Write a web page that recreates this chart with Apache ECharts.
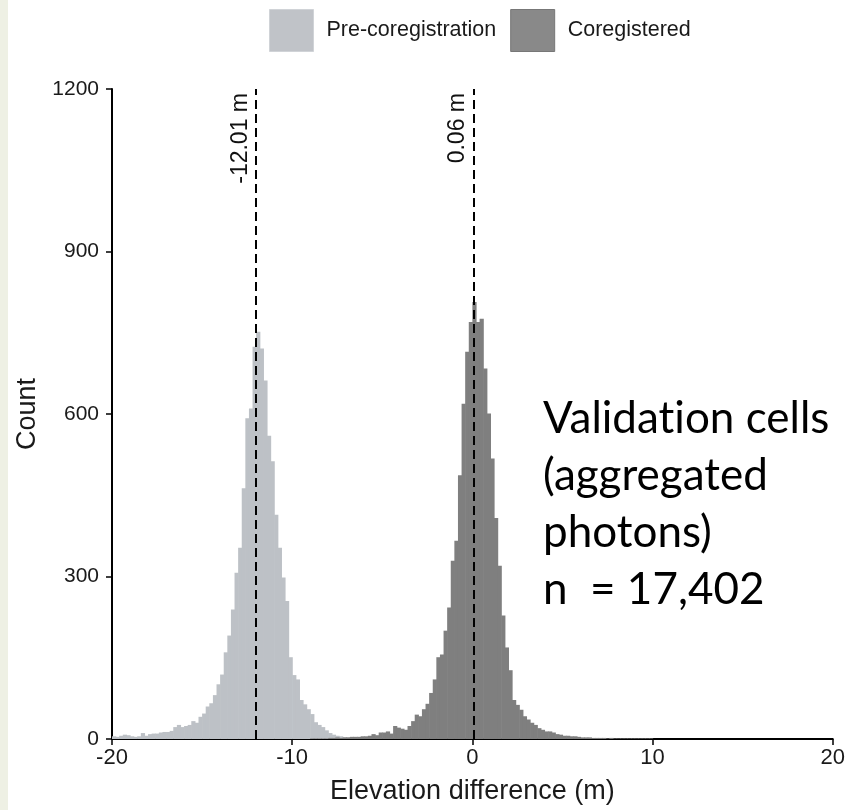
<!DOCTYPE html>
<html>
<head>
<meta charset="utf-8">
<script src="https://cdn.jsdelivr.net/npm/echarts/dist/echarts.min.js"></script>
<style>
  html, body { margin: 0; padding: 0; background: #fff; }
  #histChart { width: 848px; height: 810px; }
</style>
</head>
<body>
<div id="histChart"></div>
<script>
// histogram bins: 0.2 m wide, counts
var binWidth = 0.2;

// Pre-coregistration, first bin starts at -20.0 m
var preStart = -20.0;
var preCounts = [
  5, 4, 6, 8, 7, 5, 4, 5, 11, 6,
  9, 10, 10, 12, 13, 13, 15, 22, 26, 22,
  24, 26, 33, 30, 41, 47, 60, 66, 81, 101,
  119, 160, 191, 239, 307, 353, 463, 592, 610, 724,
  752, 721, 662, 560, 513, 414, 353, 298, 255, 151,
  118, 110, 72, 64, 55, 46, 31, 26, 22, 16,
  11, 8, 6, 5, 3, 3, 2, 2, 1, 1, 1
];

// Coregistered, first bin starts at -9.0 m
var coStart = -9.0;
var coCounts = [
  1, 1, 1, 1, 1, 2, 2, 3, 2, 3,
  3, 4, 4, 4, 5, 5, 6, 9, 7, 12,
  12, 14, 10, 24, 21, 19, 17, 24, 33, 45,
  42, 55, 65, 85, 110, 151, 156, 200, 243, 329,
  366, 487, 619, 715, 770, 807, 770, 776, 684, 601,
  518, 408, 320, 228, 169, 127, 72, 63, 54, 42,
  36, 30, 26, 20, 17, 14, 14, 12, 9, 8,
  6, 6, 5, 5, 4, 3, 3, 3, 2, 2,
  2, 2, 1, 2, 1, 1, 1, 1, 1, 1,
  1, 1, 1, 1, 1
];

// mean differences shown as dashed lines
var meanValues = [-12.01, 0.06];

var seriesNames = ['Pre-coregistration', 'Coregistered'];
var xTicks = [-20, -10, 0, 10, 20];
var yTicks = [0, 300, 600, 900, 1200];

function toBins(start, counts) {
  return counts.map(function (c, i) {
    return [+(start + i * binWidth).toFixed(1), c];
  });
}

function histItem(params, api) {
  var start = api.value(0);
  var count = api.value(1);
  var p0 = api.coord([start, 0]);
  var p1 = api.coord([start + binWidth, count]);
  return {
    type: 'rect',
    shape: { x: p0[0], y: p1[1], width: p1[0] - p0[0] + 0.6, height: p0[1] - p1[1] },
    style: { fill: api.visual('color') }
  };
}

var myChart = echarts.init(document.getElementById('histChart'));
var font = 'Liberation Sans, Arial, sans-serif';

myChart.setOption({
  backgroundColor: '#ffffff',
  animation: false,
  textStyle: { fontFamily: font },
  grid: { left: 112, right: 13, top: 89, bottom: 68 },
  legend: {
    left: 264,
    top: 4,
    itemWidth: 44,
    itemHeight: 42,
    itemGap: 14,
    textStyle: { fontSize: 21.5, color: '#1a1a1a', padding: [0, 0, 0, 8] },
    data: [
      { name: seriesNames[0], icon: 'rect', itemStyle: { color: '#c0c3c8', borderColor: '#d0d3d7', borderWidth: 1 } },
      { name: seriesNames[1], icon: 'rect', itemStyle: { color: '#898989', borderColor: '#777777', borderWidth: 1 } }
    ]
  },
  xAxis: {
    type: 'value',
    min: xTicks[0],
    max: xTicks[xTicks.length - 1],
    interval: xTicks[1] - xTicks[0],
    name: 'Elevation difference (m)',
    nameLocation: 'middle',
    nameGap: 39,
    nameTextStyle: { fontSize: 27, color: '#1a1a1a' },
    axisLine: { onZero: false, lineStyle: { color: '#000', width: 2 } },
    axisTick: { length: 6, lineStyle: { color: '#000', width: 1.5 } },
    axisLabel: { fontSize: 22, color: '#1a1a1a', margin: 8 },
    splitLine: { show: false }
  },
  yAxis: {
    type: 'value',
    min: yTicks[0],
    max: yTicks[yTicks.length - 1],
    interval: yTicks[1] - yTicks[0],
    name: 'Count',
    nameLocation: 'middle',
    nameGap: 70,
    nameTextStyle: { fontSize: 27, color: '#1a1a1a' },
    axisLine: { show: true, onZero: false, lineStyle: { color: '#000', width: 2 } },
    axisTick: { show: true, length: 6, lineStyle: { color: '#000', width: 1.5 } },
    axisLabel: {
      fontSize: 21,
      color: '#1a1a1a',
      margin: 13,
      formatter: function (v) { return String(v); }
    },
    splitLine: { show: false }
  },
  series: [
    {
      name: seriesNames[0],
      type: 'custom',
      renderItem: histItem,
      itemStyle: { color: '#bdc1c6' },
      encode: { x: 0, y: 1 },
      data: toBins(preStart, preCounts),
      z: 2
    },
    {
      name: seriesNames[1],
      type: 'custom',
      renderItem: histItem,
      itemStyle: { color: '#7f7f7f' },
      encode: { x: 0, y: 1 },
      data: toBins(coStart, coCounts),
      z: 3
    },
    {
      // dashed mean lines with rotated labels
      name: 'means',
      type: 'line',
      data: [],
      z: 5,
      markLine: {
        silent: true,
        symbol: 'none',
        lineStyle: { type: [9, 5], color: '#000', width: 2 },
        label: {
          show: true,
          position: 'insideEndTop',
          distance: 4,
          fontSize: 23,
          color: '#111',
          fontFamily: font
        },
        data: meanValues.map(function (m) {
          return { xAxis: m, label: { formatter: m.toFixed(2) + ' m' } };
        })
      }
    }
  ],
  graphic: [
    {
      // light strip on left edge of the original figure
      type: 'rect',
      left: 0,
      top: 0,
      shape: { width: 8, height: 810 },
      style: { fill: '#eef0e4' },
      silent: true
    },
    {
      type: 'text',
      left: 543,
      top: 390,
      style: {
        // ZWNJ keeps Lato from drawing the "ti" ligature
        text: 'Validat\u200Cion cells\n(aggregated\nphotons)\nn  = 17,402',
        font: '44px Lato, sans-serif',
        lineHeight: 57,
        fill: '#000'
      }
    }
  ]
});
</script>
</body>
</html>
